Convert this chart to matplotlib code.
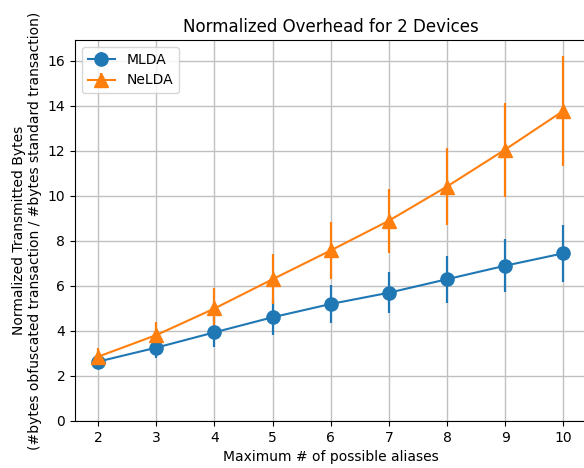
import matplotlib
matplotlib.use("Agg")
import matplotlib.pyplot as plt

aliases = [2, 3, 4, 5, 6, 7, 8, 9, 10]

mlda_mean = [2.64, 3.26, 3.94, 4.61, 5.20, 5.70, 6.30, 6.90, 7.45]
mlda_err = [0.20, 0.47, 0.67, 0.80, 0.85, 0.92, 1.05, 1.18, 1.28]

nelda_mean = [2.86, 3.82, 5.00, 6.30, 7.58, 8.90, 10.42, 12.06, 13.78]
nelda_err = [0.37, 0.60, 0.90, 1.10, 1.25, 1.42, 1.73, 2.09, 2.45]

fig = plt.figure(figsize=(5.84, 4.68), dpi=100)
ax = fig.add_axes([75 / 584, 1 - 421 / 468, 511.5 / 584, 381 / 468])

ax.errorbar(aliases, mlda_mean, yerr=mlda_err, marker='o', markersize=9.5,
            color='#1f77b4', linewidth=1.5, elinewidth=1.6, label='MLDA')
ax.errorbar(aliases, nelda_mean, yerr=nelda_err, marker='^', markersize=9.5,
            color='#ff7f0e', linewidth=1.5, elinewidth=1.6, label='NeLDA')

ax.set_xlim(1.6, 10.4)
ax.set_ylim(0, 16.93)
ax.set_xticks(aliases)
ax.set_yticks(range(0, 17, 2))
ax.grid(True, color='#c0c0c0', linewidth=1.0)
ax.set_axisbelow(True)

ax.set_title('Normalized Overhead for 2 Devices')
ax.set_xlabel('Maximum # of possible aliases')
ax.set_ylabel('Normalized Transmitted Bytes\n(#bytes obfuscated transaction / #bytes standard transaction)')
ax.legend(loc='upper left')

fig.savefig('out.png', dpi=100)
